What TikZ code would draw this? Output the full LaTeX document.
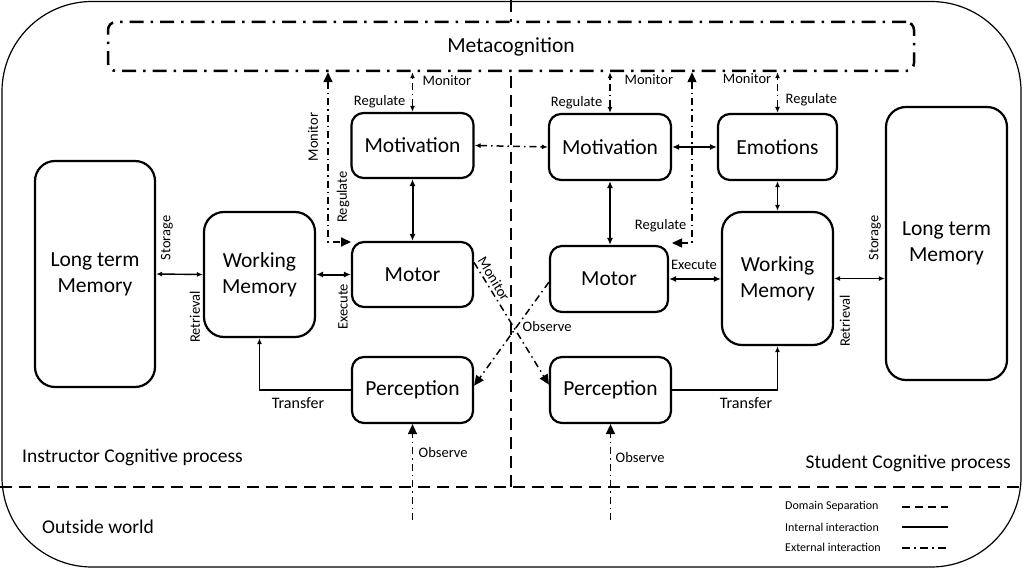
\documentclass[tikz,border=0pt]{standalone}
\usepackage{fontspec}
\setmainfont{Carlito}
\usetikzlibrary{arrows.meta}
\begin{document}
\begin{tikzpicture}[x=1pt,y=-1pt,
  box/.style={draw, line width=2.2pt, rounded corners=12pt, align=center, font=\fontsize{21.5}{26}\selectfont, inner sep=0pt},
  tallbox/.style={box, rounded corners=20pt},
  lbl/.style={font=\fontsize{14.5}{16}\selectfont, inner sep=0.5pt},
  big/.style={font=\fontsize{19.5}{22}\selectfont, inner sep=0pt},
  leg/.style={font=\fontsize{12}{14}\selectfont, inner sep=0pt, anchor=west},
  intarr/.style={line width=2pt, {Latex[length=7pt,width=6pt]}-{Latex[length=7pt,width=6pt]}},
  thinarr/.style={line width=1.4pt, {Latex[length=6pt,width=5pt]}-{Latex[length=6pt,width=5pt]}},
  ext/.style={line width=1.5pt, dash pattern=on 7pt off 4pt on 1.5pt off 4pt},
  smallext/.style={ext, {Latex[length=6pt,width=5pt]}-{Latex[length=6pt,width=5pt]}},
  bigtip/.style={-{Triangle[length=10pt,width=9pt]}},
  dom/.style={line width=2.5pt, dash pattern=on 12pt off 7pt},
]
\useasboundingbox (0,0) rectangle (1027,569);
% outer frame
\draw[line width=1.2pt, rounded corners=90pt] (2,1.5) rectangle (1021,567);
% domain separation
\draw[dom] (511,0) -- (511,487);
\draw[dom] (0,487) -- (1020,487);
% metacognition
\node[draw, fill=white, line width=2.5pt, dash pattern=on 14pt off 7pt on 2.5pt off 7pt,
      rounded corners=8pt, minimum width=806pt, minimum height=49pt,
      font=\fontsize{21.5}{26}\selectfont] (meta) at (511,46.5) {Metacognition};
% boxes
\node[tallbox, minimum width=120pt, minimum height=226pt] (ltmL) at (95,274) {Long term\\Memory};
\node[tallbox, minimum width=111pt, minimum height=125pt] (wmL) at (259.5,274.5) {Working\\Memory};
\node[box, minimum width=122pt, minimum height=65pt] (motivL) at (412.5,145.5) {Motivation};
\node[box, minimum width=121pt, minimum height=65pt] (motorL) at (412.5,274.5) {Motor};
\node[box, minimum width=121pt, minimum height=66pt] (percL) at (412.5,390) {Perception};
\node[box, minimum width=122pt, minimum height=66pt] (motivR) at (610,147) {Motivation};
\node[box, minimum width=119pt, minimum height=66pt] (emo) at (777.5,147) {Emotions};
\node[box, minimum width=118pt, minimum height=66pt] (motorR) at (609,279) {Motor};
\node[tallbox, minimum width=111pt, minimum height=133pt] (wmR) at (777.5,278.5) {Working\\Memory};
\node[tallbox, minimum width=121pt, minimum height=273pt] (ltmR) at (946.5,243.5) {Long term\\Memory};
\node[box, minimum width=121pt, minimum height=66pt] (percR) at (610.5,390) {Perception};
% coordinates
\coordinate (mL) at (328,0);
\coordinate (tL) at (351,242);
\coordinate (mR) at (692,0);
\coordinate (tR) at (672,243);
\coordinate (obsL) at (412.5,520);
\coordinate (obsR) at (610.5,520);
% internal interactions
\draw[thinarr] (ltmL.east) -- (wmL.west);
\draw[intarr] (wmL.east) -- (motorL.west);
\draw[intarr] (motivL.south) -- (motorL.north);
\draw[line width=1.4pt, -{Latex[length=6pt,width=5pt]}] (percL.west) -| (wmL.south);
\draw[intarr] (motivR.south) -- (motivR.south |- motorR.north);
\draw[intarr] (motivR.east) -- (emo.west);
\draw[thinarr] (emo.south) -- (emo.south |- wmR.north);
\draw[intarr] (motorR.east) -- (motorR.east -| wmR.west);
\draw[thinarr] (wmR.east) -- (wmR.east -| ltmR.west);
\draw[line width=1.4pt, -{Latex[length=6pt,width=5pt]}] (percR.east) -| (wmR.south);
% external interactions
\draw[smallext] (motivL.north) -- (motivL.north |- meta.south);
\draw[smallext] (motivR.north) -- (motivR.north |- meta.south);
\draw[smallext] (emo.north) -- (emo.north |- meta.south);
\draw[smallext] (motivL.east) -- (motivR.west);
\draw[ext, line width=2pt, {Triangle[length=10pt,width=9pt]}-{Triangle[length=10pt,width=9pt]}] (meta.south -| mL) |- (tL);
\draw[ext, {Triangle[length=10pt,width=9pt]}-{Triangle[length=10pt,width=9pt]}] (meta.south -| mR) |- (tR);
\draw[ext, bigtip] (motorL.11) -- (percR.175);
\draw[ext, bigtip] (motorR.183) -- (percL.4);
\draw[ext, bigtip] (obsL) -- (percL.south);
\draw[ext, bigtip] (obsR) -- (percR.south);
% labels
\node[lbl, anchor=west] at (422,81) {Monitor};
\node[lbl, anchor=east] at (406,102) {Regulate};
\node[lbl, anchor=west] at (624,80) {Monitor};
\node[lbl, anchor=east] at (603,103) {Regulate};
\node[lbl, anchor=east] at (772,79) {Monitor};
\node[lbl, anchor=west] at (785,100) {Regulate};
\node[lbl, anchor=east] at (687,226) {Regulate};
\node[lbl, rotate=90] at (313,137) {Monitor};
\node[lbl, rotate=90] at (343,197) {Regulate};
\node[lbl, rotate=90] at (167,238) {Storage};
\node[lbl, rotate=90] at (195,317) {Retrieval};
\node[lbl, rotate=90] at (343,307) {Execute};
\node[lbl] at (694,265) {Execute};
\node[lbl, rotate=90] at (875,238) {Storage};
\node[lbl, rotate=90] at (845,321) {Retrieval};
\node[lbl, font=\fontsize{16}{18}\selectfont] at (298,403) {Transfer};
\node[lbl, font=\fontsize{16}{18}\selectfont] at (746,403) {Transfer};
\node[lbl, anchor=west] at (418,453) {Observe};
\node[lbl, anchor=west] at (615,458) {Observe};
\node[lbl, rotate=-59] at (494,279) {Monitor};
\node[lbl, anchor=west] at (522,327) {Observe};
\node[big, anchor=west] at (22,457) {Instructor Cognitive process};
\node[big, anchor=west] at (42,527) {Outside world};
\node[big, anchor=east] at (1011,463) {Student Cognitive process};
% legend
\node[leg] (l1) at (785,506) {Domain Separation};
\node[leg] (l2) at (785,527) {Internal interaction};
\node[leg] (l3) at (785,547) {External interaction};
\coordinate (a1) at (902,507); \coordinate (b1) at (948,507);
\coordinate (a2) at (902,527); \coordinate (b2) at (948,527);
\coordinate (a3) at (902,548); \coordinate (b3) at (948,548);
\draw[line width=2pt, dash pattern=on 8pt off 5pt] (a1) -- (b1);
\draw[line width=2pt] (a2) -- (b2);
\draw[line width=2pt, dash pattern=on 8pt off 4pt on 2pt off 4pt] (a3) -- (b3);
\end{tikzpicture}
\end{document}
